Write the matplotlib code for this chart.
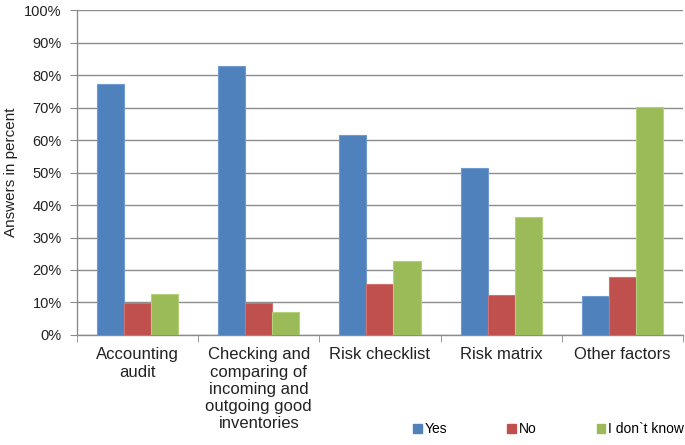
import numpy as np
import matplotlib.pyplot as plt
from matplotlib.patches import Patch

plt.rcParams['font.family'] = ['Liberation Sans', 'DejaVu Sans']

# Data
categories = ["Accounting\naudit",
              "Checking and\ncomparing of\nincoming and\noutgoing good\ninventories",
              "Risk checklist", "Risk matrix", "Other factors"]
yes = [77.2, 82.8, 61.5, 51.5, 12.1]
no = [9.9, 9.9, 15.8, 12.2, 17.8]
dont_know = [12.7, 7.0, 22.8, 36.4, 70.2]
series_names = ["Yes", "No", "I don`t know"]
colors = ["#4F81BD", "#C0504D", "#9BBB59"]
edges = ["#6F9BD1", "#D07370", "#B4D07A"]

fig = plt.figure(figsize=(6.85, 4.45), dpi=100)
ax = fig.add_axes([0.1124, 0.2472, 0.997 - 0.1124, 0.9775 - 0.2472])

x = np.arange(len(categories))
w = 0.223
for i, (vals, col, ec) in enumerate(zip([yes, no, dont_know], colors, edges)):
    ax.bar(x + (i - 1) * w, vals, w, color=col, edgecolor=ec, linewidth=0.8,
           label=series_names[i], zorder=3)

ax.set_xlim(-0.5, len(categories) - 0.5)
ax.set_ylim(0, 100)
ax.set_yticks(np.arange(0, 101, 10))
ax.set_yticklabels([f"{v}%" for v in range(0, 101, 10)], fontsize=10.5, color="#222222")
ax.yaxis.grid(True, color="#8C8C8C", linewidth=1.0, zorder=0)
fig.text(11 / 685, 0.6124, "Answers in percent", fontsize=11, color="#222222",
         rotation=90, ha="center", va="center")

ax.set_xticks(x)
ax.set_xticklabels(categories, fontsize=12, color="#222222", linespacing=1.17, va="top")
ax.tick_params(axis="x", which="major", length=0, pad=9)
ax.set_xticks(np.arange(-0.5, len(categories)), minor=True)
ax.tick_params(axis="x", which="minor", length=5, color="#8C8C8C", direction="out")
ax.tick_params(axis="y", length=5, color="#8C8C8C", direction="out", pad=6)

for s in ["top", "right"]:
    ax.spines[s].set_visible(False)
for s in ["left", "bottom"]:
    ax.spines[s].set_color("#8C8C8C")
    ax.spines[s].set_linewidth(1.0)

handles = [Patch(facecolor=c, edgecolor=c) for c in colors]
fig.legend(handles, series_names, loc="lower left", bbox_to_anchor=(0.585, -0.008),
           ncol=3, frameon=False, fontsize=10, handlelength=0.6, handleheight=0.6,
           handletextpad=0.25, columnspacing=4.3)

fig.savefig("out.png", dpi=100)
